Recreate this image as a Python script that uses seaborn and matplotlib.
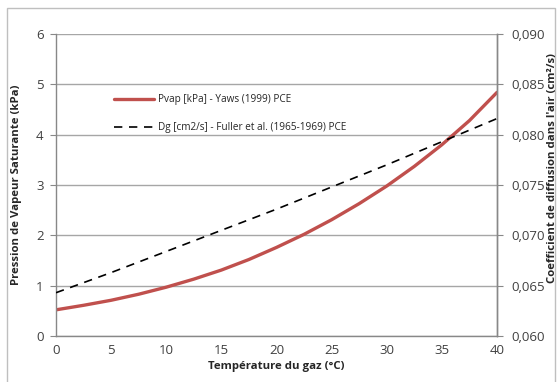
import matplotlib
matplotlib.use("Agg")
import matplotlib.pyplot as plt
from matplotlib.ticker import MultipleLocator, FuncFormatter
from matplotlib.lines import Line2D
from matplotlib.patches import Rectangle
import seaborn as sns
import pandas as pd

temp_pvap = [0, 2.5, 5, 7.5, 10, 12.5, 15, 17.5, 20, 22.5, 25, 27.5, 30, 32.5, 35, 37.5, 40]
pvap = [0.52, 0.61, 0.71, 0.83, 0.97, 1.13, 1.31, 1.52, 1.76, 2.02, 2.31, 2.63, 2.98, 3.37, 3.80, 4.28, 4.84]

temp_dg = [0, 5, 10, 15, 20, 25, 30, 35, 40]
dg = [0.0643, 0.0663, 0.0684, 0.0705, 0.0726, 0.0748, 0.0770, 0.0793, 0.0816]

label_pvap = "Pvap [kPa] - Yaws (1999) PCE"
label_dg = "Dg [cm2/s] - Fuller et al. (1965-1969) PCE"

sns.set_style("white")
plt.rcParams["font.family"] = ["Open Sans", "DejaVu Sans"]

df_p = pd.DataFrame({"T": temp_pvap, "P": pvap})
df_d = pd.DataFrame({"T": temp_dg, "D": dg})

red = "#C0504D"
grey = "#888888"

fig = plt.figure(figsize=(5.57, 3.82), dpi=100)
ax = fig.add_axes([56 / 557, 1 - 336 / 382, 441 / 557, 302 / 382])
ax2 = ax.twinx()

sns.lineplot(data=df_p, x="T", y="P", ax=ax, color=red, linewidth=2.4)
sns.lineplot(data=df_d, x="T", y="D", ax=ax2, color="black", linewidth=1.2,
             linestyle=(0, (5, 4)))

ax.set_xlim(0, 40)
ax.set_ylim(0, 6)
ax2.set_ylim(0.060, 0.090)
ax.xaxis.set_major_locator(MultipleLocator(5))
ax.xaxis.set_minor_locator(MultipleLocator(1))
ax.yaxis.set_major_locator(MultipleLocator(1))
ax2.yaxis.set_major_locator(MultipleLocator(0.005))
ax2.yaxis.set_major_formatter(FuncFormatter(lambda v, p: f"{v:.3f}".replace(".", ",")))

ax.grid(axis="y", color="#A6A6A6", linewidth=1)
ax.set_axisbelow(True)

for a in (ax, ax2):
    a.spines["top"].set_visible(False)
    for s in ("left", "right", "bottom"):
        a.spines[s].set_color(grey)
        a.spines[s].set_linewidth(1)
ax2.spines["left"].set_visible(False)
ax2.spines["bottom"].set_visible(False)

ax.tick_params(axis="x", which="major", direction="inout", length=6, color=grey,
               labelsize=9.5, labelcolor="#404040", pad=3)
ax.tick_params(axis="x", which="minor", direction="in", length=3, color=grey)
ax.tick_params(axis="y", direction="out", length=4, color=grey, labelsize=9.5,
               labelcolor="#404040", left=True, pad=5)
ax2.tick_params(axis="y", direction="out", length=4, color=grey, labelsize=9.5,
                labelcolor="#404040", right=True, pad=6)

ax.set_xlabel("Température du gaz (°C)", fontsize=8.2, fontweight="bold", labelpad=3)
ax.set_ylabel("Pression de Vapeur Saturante (kPa)", fontsize=8.2, fontweight="bold", labelpad=10)
ax2.set_ylabel("")
fig.text(0.992, 0.56, "Coefficient de diffusion dans l'air (cm²/s)", rotation=90,
         fontsize=8.2, fontweight="bold", ha="center", va="center")

handles = [Line2D([], [], color=red, linewidth=2.4),
           Line2D([], [], color="black", linewidth=1.2, linestyle=(0, (5, 4)))]
ax.legend(handles, [label_pvap, label_dg], loc="upper left",
          bbox_to_anchor=(0.11, 0.83), frameon=False, fontsize=7.2,
          handlelength=4.0, labelspacing=1.7, handletextpad=0.4)

fig.patches.append(Rectangle((7 / 557, -0.02), 548 / 557, 1 - 8 / 382 + 0.02,
                             transform=fig.transFigure, fill=False,
                             edgecolor="#BFBFBF", linewidth=1))

fig.savefig("out.png", dpi=100)
